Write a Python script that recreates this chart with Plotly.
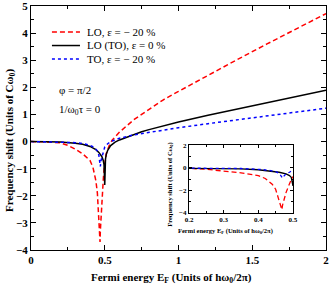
import plotly.graph_objects as go

# ---- data ----
E_red = [0.0, 0.1, 0.2, 0.25, 0.3, 0.35, 0.4, 0.42, 0.44, 0.45, 0.455, 0.46, 0.465, 0.468,
         0.47, 0.475, 0.48, 0.485, 0.49, 0.495, 0.5, 0.51, 0.53, 0.55, 0.6, 0.65, 0.7, 0.75,
         0.8, 0.9, 1.0, 1.1, 1.2, 1.4, 1.6, 1.8, 2.0]
lo_m20 = [0.0, -0.01, -0.05, -0.14, -0.28, -0.45, -0.7, -0.95, -1.45, -1.9, -2.4, -2.9, -3.4, -3.7,
          -3.3, -2.7, -2.2, -1.8, -1.4, -1.05, -0.8, -0.45, -0.15, 0.05, 0.35, 0.6, 0.82, 1.0,
          1.18, 1.55, 1.85, 2.15, 2.45, 3.03, 3.6, 4.15, 4.72]

E_black = [0.0, 0.2, 0.3, 0.35, 0.4, 0.44, 0.46, 0.48, 0.49, 0.495, 0.5,
           0.502, 0.505, 0.51, 0.52, 0.54, 0.57, 0.6, 0.65, 0.7, 0.75, 0.8, 0.9, 1.0,
           1.2, 1.4, 1.6, 1.8, 2.0]
lo_0 = [0.0, -0.02, -0.06, -0.1, -0.18, -0.3, -0.4, -0.55, -0.7, -0.85, -1.6,
        -0.9, -0.65, -0.48, -0.32, -0.15, -0.02, 0.06, 0.17, 0.27, 0.36, 0.44, 0.59, 0.72,
        0.97, 1.2, 1.43, 1.66, 1.89]

E_blue = [0.0, 0.2, 0.3, 0.35, 0.4, 0.43, 0.45, 0.46, 0.465, 0.47, 0.475, 0.48, 0.49, 0.5,
          0.52, 0.55, 0.6, 0.7, 0.8, 0.9, 1.0, 1.2, 1.4, 1.6, 1.8, 2.0]
to_m20 = [0.0, -0.01, -0.04, -0.07, -0.14, -0.22, -0.35, -0.5, -0.7, -0.92, -0.7, -0.55, -0.4, -0.2,
          -0.08, 0.02, 0.12, 0.25, 0.34, 0.43, 0.51, 0.66, 0.8, 0.94, 1.09, 1.23]

series_names = ["LO, ε = − 20 %", "LO (TO), ε = 0 %", "TO, ε = − 20 %"]
x_ticks = [0, 0.5, 1, 1.5, 2]
y_ticks = [-4, -3, -2, -1, 0, 1, 2, 3, 4, 5]
inset_x_ticks = [0.2, 0.3, 0.4, 0.5]
inset_y_ticks = [-4, -2, 0, 2]

SERIF = "Liberation Serif"
colors = ["#ff0000", "#000000", "#0000ff"]
dashes = ["5px,3px", "solid", "dot"]
data = [(E_red, lo_m20), (E_black, lo_0), (E_blue, to_m20)]

fig = go.Figure()
for (xs, ys), name, col, dash in zip(data, series_names, colors, dashes):
    fig.add_trace(go.Scatter(x=xs, y=ys, mode="lines", name=name, showlegend=False,
                             line=dict(color=col, width=1.5, dash=dash),
                             xaxis="x", yaxis="y"))
for (xs, ys), name, col, dash in zip(data, series_names, colors, dashes):
    fig.add_trace(go.Scatter(x=xs, y=ys, mode="lines", name=name, showlegend=False,
                             line=dict(color=col, width=1.3, dash=dash),
                             xaxis="x2", yaxis="y2"))

axis_common = dict(showgrid=False, zeroline=False, showline=True, linecolor="black",
                   linewidth=1, mirror="ticks", ticks="inside", tickcolor="black",
                   automargin=False, ticklabeloverflow="allow")

# legend drawn as line samples + labels (tight row spacing like the original)
shapes = []
annotations = []
legend_rows_y = [0.893, 0.838, 0.783]
for name, col, dash, yy in zip(series_names, colors, dashes, legend_rows_y):
    shapes.append(dict(type="line", xref="paper", yref="paper", x0=0.071, x1=0.166,
                       y0=yy, y1=yy, line=dict(color=col, width=1.5, dash=dash)))
    annotations.append(dict(text=name, x=0.183, y=yy, xref="paper", yref="paper",
                            xanchor="left", yanchor="middle", showarrow=False,
                            font=dict(family=SERIF, size=11)))

annotations += [
    dict(text="φ = π/2", x=0.088, y=0.656, xref="paper", yref="paper",
         xanchor="left", yanchor="middle", showarrow=False, font=dict(family=SERIF, size=11)),
    dict(text="1/ω<sub>0</sub>τ = 0", x=0.088, y=0.574, xref="paper", yref="paper",
         xanchor="left", yanchor="middle", showarrow=False, font=dict(family=SERIF, size=11)),
    # main axis titles
    dict(text="Fermi energy E<sub>F</sub> (Units of hω<sub>0</sub>/2π)", x=0.475, y=-0.115,
         xref="paper", yref="paper", xanchor="center", yanchor="middle", showarrow=False,
         font=dict(family=SERIF, size=11, weight="bold")),
    dict(text="Frequency shift (Units of Cω<sub>0</sub>)", x=-0.071, y=0.447,
         xref="paper", yref="paper", xanchor="center", yanchor="middle", showarrow=False,
         textangle=-90, font=dict(family=SERIF, size=11, weight="bold")),
    # inset axis titles
    dict(text="Fermi energy E<sub>F</sub> (Units of hω<sub>0</sub>/2π)", x=0.66, y=0.078,
         xref="paper", yref="paper", xanchor="center", yanchor="middle", showarrow=False,
         font=dict(family=SERIF, size=6.5, weight="bold")),
    dict(text="Frequency shift (Units of Cω<sub>0</sub>)", x=0.47, y=0.27,
         xref="paper", yref="paper", xanchor="center", yanchor="middle", showarrow=False,
         textangle=-90, font=dict(family=SERIF, size=6.5, weight="bold")),
]

fig.update_layout(
    width=332, height=289,
    margin=dict(l=31, r=6, t=6, b=39),
    paper_bgcolor="white", plot_bgcolor="white",
    font=dict(family=SERIF, color="black"),
    showlegend=False,
    shapes=shapes,
    annotations=annotations,
    xaxis=dict(**axis_common, range=[0, 2], tickvals=x_ticks, ticklen=5,
               minor=dict(ticks="inside", dtick=0.25, ticklen=3, tickcolor="black"),
               tickfont=dict(family=SERIF, size=11, weight="bold")),
    yaxis=dict(**axis_common, range=[-4, 5], tickvals=y_ticks, ticklen=5,
               minor=dict(ticks="inside", dtick=0.5, ticklen=3, tickcolor="black"),
               tickfont=dict(family=SERIF, size=11, weight="bold")),
    xaxis2=dict(**axis_common, domain=[0.5356, 0.888], anchor="y2", range=[0.2, 0.5],
                tickvals=inset_x_ticks, ticklen=3,
                minor=dict(ticks="inside", dtick=0.05, ticklen=2, tickcolor="black"),
                tickfont=dict(family=SERIF, size=7, weight="bold")),
    yaxis2=dict(**axis_common, domain=[0.1516, 0.430], anchor="x2", range=[-4, 2],
                tickvals=inset_y_ticks, ticklen=3,
                minor=dict(ticks="inside", dtick=1, ticklen=2, tickcolor="black"),
                tickfont=dict(family=SERIF, size=7, weight="bold")),
)

fig.write_html("out.html", config={"displayModeBar": False},
               post_script="document.body.style.margin='0';document.body.style.overflow='hidden';")
